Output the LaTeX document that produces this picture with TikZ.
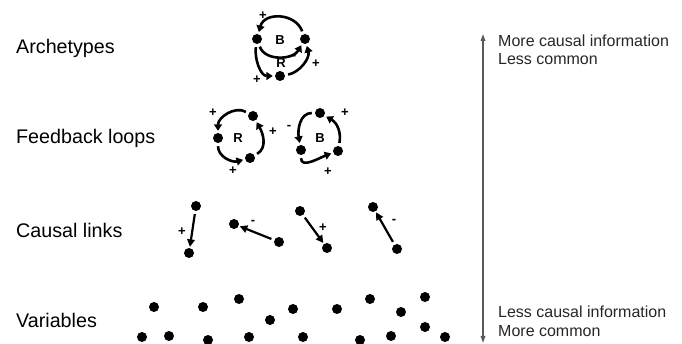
\documentclass[tikz,border=0pt]{standalone}
\usepackage{fontspec}
\setmainfont{Liberation Sans}
\usetikzlibrary{arrows.meta}
\begin{document}
\begin{tikzpicture}[x=1pt,y=1pt,
 dot/.style={circle,fill=black,inner sep=0pt,minimum size=10pt},
 lnk/.style={-{Triangle[length=7.5pt,width=7.5pt]},line width=2.2pt,shorten <=3pt,shorten >=1pt},
 loop/.style={-{Triangle[length=6.5pt,width=8pt]},line width=2.6pt,shorten <=3pt,shorten >=2pt},
 sgn/.style={font=\fontsize{13}{14}\selectfont\bfseries,inner sep=0pt},
 lab/.style={anchor=base west,font=\fontsize{19.7}{22}\selectfont,inner sep=0pt},
 side/.style={anchor=base west,font=\fontsize{16}{18.5}\selectfont,inner sep=0pt,text=black!85}]
\useasboundingbox (0,0) rectangle (682,344);

% left labels
\node[lab] (l1) at (16,290) {Archetypes};
\node[lab] (l2) at (16,200) {Feedback loops};
\node[lab] (l3) at (16,106) {Causal links};
\node[lab] (l4) at (16,16) {Variables};

% right side
\coordinate (atop) at (483,310);
\coordinate (abot) at (483,1);
\draw[{Triangle[length=7pt,width=4.5pt]}-{Triangle[length=7pt,width=4.5pt]},line width=1.5pt,black!65] (abot) -- (atop);
\node[side] (t1) at (498,297) {More causal information};
\node[side] (t2) at (498,279) {Less common};
\node[side] (t3) at (498,26) {Less causal information};
\node[side] (t4) at (498,7) {More common};

% archetypes
\node[dot] (ap) at (257,305) {};
\node[dot] (aq) at (305,305) {};
\node[dot] (as) at (280,268) {};
\node[sgn] (ablab) at (280,304) {B};
\node[sgn] (arlab) at (281,281) {R};
\draw[loop] (aq) to[out=110,in=75,looseness=1.3] (ap);
\draw[loop] (ap) to[out=-70,in=-120,looseness=1.1] (aq);
\draw[loop] (ap) to[out=262,in=180] (as);
\draw[loop] (as) to[out=10,in=285] (aq);
\node[sgn] at (263,328) {+};
\node[sgn] at (294,287) {-};
\node[sgn] at (257,264) {+};
\node[sgn] at (316,280) {+};

% feedback loop R
\node[dot] (ra) at (253,228) {};
\node[dot] (rl) at (218,206) {};
\node[dot] (rb) at (250,186) {};
\node[sgn] (rlab) at (238,206) {R};
\draw[loop] (ra) to[out=150,in=90,looseness=1.1] (rl);
\draw[loop] (rl) to[out=270,in=195,looseness=1.1] (rb);
\draw[loop] (rb) to[out=30,in=300,looseness=1.1] (ra);
\node[sgn] at (213,231) {+};
\node[sgn] at (233,173) {+};
\node[sgn] at (273,212) {+};

% feedback loop B
\node[dot] (bt) at (320,231) {};
\node[dot] (bl) at (301,194) {};
\node[dot] (br) at (338,193) {};
\node[sgn] (blab) at (320,206) {B};
\draw[loop] (bt) to[out=180,in=100,looseness=1.1] (bl);
\draw[loop] (bl) to[out=270,in=200,looseness=1.1] (br);
\draw[loop] (br) to[out=80,in=330,looseness=1.1] (bt);
\node[sgn] at (289,217) {-};
\node[sgn] at (328,172) {+};
\node[sgn] at (345,231) {+};

% causal links
\node[dot] (c1a) at (196,138) {};
\node[dot] (c1b) at (189,91) {};
\draw[lnk] (c1a) -- (c1b);
\node[sgn] at (182,112) {+};
\node[dot] (c2a) at (234,120) {};
\node[dot] (c2b) at (279,102) {};
\draw[lnk] (c2b) -- (c2a);
\node[sgn] at (253,122) {-};
\node[dot] (c3a) at (300,133) {};
\node[dot] (c3b) at (327,96) {};
\draw[lnk] (c3a) -- (c3b);
\node[sgn] at (323,116) {+};
\node[dot] (c4a) at (373,137) {};
\node[dot] (c4b) at (397,95) {};
\draw[lnk] (c4b) -- (c4a);
\node[sgn] at (394,123) {-};

% variables
\foreach \n/\x/\y in {1/154/37,2/203/37,3/239/45,4/270/24,5/293/35,6/337/35,7/370/45,8/401/32,9/425/47,10/142/7,11/169/8,12/208/4,13/249/7,14/303/7,15/360/4,16/391/8,17/425/17,18/445/7}
  \node[dot] (v\n) at (\x,\y) {};
\end{tikzpicture}
\end{document}
